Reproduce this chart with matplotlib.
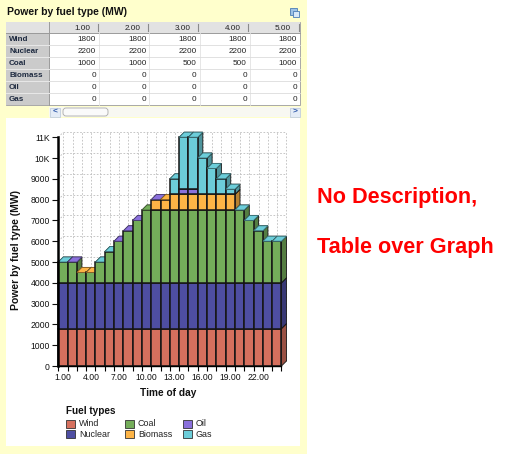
import matplotlib
matplotlib.use('Agg')
import matplotlib.pyplot as plt
from matplotlib.patches import Rectangle, Polygon, FancyBboxPatch
from matplotlib.colors import to_rgb

plt.rcParams['font.family'] = ['Liberation Sans', 'DejaVu Sans']

# data (MW per hour of day)
hours = list(range(1, 25))
fuels = ['Wind', 'Nuclear', 'Coal', 'Biomass', 'Oil', 'Gas']
wind = [1800, 1800, 1800, 1800, 1800, 1800, 1800, 1800, 1800, 1800, 1800, 1800,
        1800, 1800, 1800, 1800, 1800, 1800, 1800, 1800, 1800, 1800, 1800, 1800]
nuclear = [2200, 2200, 2200, 2200, 2200, 2200, 2200, 2200, 2200, 2200, 2200, 2200,
           2200, 2200, 2200, 2200, 2200, 2200, 2200, 2200, 2200, 2200, 2200, 2200]
coal = [1000, 1000, 500, 500, 1000, 1500, 2000, 2500, 3000, 3500, 3500, 3500,
        3500, 3500, 3500, 3500, 3500, 3500, 3500, 3500, 3000, 2500, 2000, 2000]
biomass = [0, 0, 0, 0, 0, 0, 0, 0, 0, 0, 500, 500,
           750, 750, 750, 750, 750, 750, 750, 0, 0, 0, 0, 0]
oil = [0, 0, 0, 0, 0, 0, 0, 0, 0, 0, 0, 0,
       0, 250, 250, 0, 0, 0, 0, 0, 0, 0, 0, 0]
gas = [0, 0, 0, 0, 0, 0, 0, 0, 0, 0, 0, 0,
       750, 2500, 2500, 1750, 1250, 750, 250, 0, 0, 0, 0, 0]
# colour of the visible top face of each column in the original rendering
top_face = ['Gas', 'Oil', 'Biomass', 'Biomass', 'Gas', 'Gas', 'Oil', 'Oil', 'Oil', 'Coal',
            'Oil', 'Biomass', 'Gas', 'Gas', 'Gas', 'Gas', 'Gas', 'Gas', 'Gas', 'Gas',
            'Gas', 'Gas', 'Gas', 'Gas']
series = [wind, nuclear, coal, biomass, oil, gas]
colors = {'Wind': '#D6705E', 'Nuclear': '#4E4EA2', 'Coal': '#74AD5A',
          'Biomass': '#FDB446', 'Oil': '#8A70DC', 'Gas': '#6CCDD9'}

W, H = 508, 454
fig = plt.figure(figsize=(W / 100, H / 100), dpi=100)
fig.patch.set_facecolor('white')

# background / panel drawn in pixel coordinates
bg = fig.add_axes([0, 0, 1, 1])
bg.set_xlim(0, W)
bg.set_ylim(H, 0)
bg.axis('off')
bg.add_patch(Rectangle((0, 0), 307, H, fc='#FFFFCC', ec='none'))
bg.add_patch(Rectangle((6, 118), 294, 328, fc='white', ec='none'))
bg.text(7, 12, 'Power by fuel type (MW)', fontsize=7.5, fontweight='bold',
        va='center', ha='left', color='#111111')
# little export icon
bg.add_patch(Rectangle((290, 8), 7, 7, fc='#9EC3E6', ec='#4A7DB5', lw=0.6))
bg.add_patch(Rectangle((293, 11), 6, 6, fc='#D6E8F7', ec='#4A7DB5', lw=0.6))

# table
tx0, lab_w, col_w, head_h, row_h, ty0 = 6, 43, 50.2, 11, 12, 22
ncols = 5
tx1 = tx0 + lab_w + ncols * col_w
bg.add_patch(Rectangle((tx0, ty0), tx1 - tx0, head_h + 6 * row_h, fc='white', ec='#A8A8A8', lw=0.7))
bg.add_patch(Rectangle((tx0, ty0), tx1 - tx0, head_h, fc='#E2E2E2', ec='none'))
bg.add_patch(Rectangle((tx0, ty0 + head_h), lab_w, 6 * row_h, fc='#CBCBCB', ec='none'))
bg.plot([tx0, tx1], [ty0 + head_h, ty0 + head_h], color='#9A9A9A', lw=0.7)
bg.plot([tx0 + lab_w, tx0 + lab_w], [ty0, ty0 + head_h + 6 * row_h], color='#9A9A9A', lw=0.7)
for c in range(ncols):
    xr = tx0 + lab_w + (c + 1) * col_w
    bg.text(xr - 9, ty0 + head_h / 2 + 0.5, '%.2f' % hours[c], fontsize=5.9,
            ha='right', va='center', color='#222222')
    bg.plot([xr - 1.5, xr - 1.5], [ty0 + 2, ty0 + head_h - 2], color='#8A8A8A', lw=0.8)
    if c < ncols - 1:
        bg.plot([xr, xr], [ty0 + head_h, ty0 + head_h + 6 * row_h], color='#E2E2E2', lw=0.6)
for r, (name, vals) in enumerate(zip(fuels, series)):
    yc = ty0 + head_h + r * row_h + row_h / 2
    bg.text(tx0 + 3, yc + 0.5, name, fontsize=5.8, fontweight='bold', ha='left',
            va='center', color='#1E2A40')
    for c in range(ncols):
        xr = tx0 + lab_w + (c + 1) * col_w
        bg.text(xr - 3, yc + 0.5, str(vals[c]), fontsize=5.9, ha='right', va='center',
                color='#222222')
    if r > 0:
        yl = ty0 + head_h + r * row_h
        bg.plot([tx0 + lab_w, tx1], [yl, yl], color='#DCDCDC', lw=0.6)
        bg.plot([tx0, tx0 + lab_w], [yl, yl], color='#EDEDED', lw=0.6)

# scrollbar
bg.add_patch(Rectangle((49, 107), 251, 10, fc='#F8F8F2', ec='none'))
bg.add_patch(Rectangle((50, 107.5), 10, 9, fc='#E4ECF7', ec='#B8C6DA', lw=0.5))
bg.add_patch(Rectangle((290, 107.5), 10, 9, fc='#E4ECF7', ec='#B8C6DA', lw=0.5))
bg.text(55, 112.3, '<', fontsize=6, ha='center', va='center', color='#2A55A8', fontweight='bold')
bg.text(295, 112.3, '>', fontsize=6, ha='center', va='center', color='#2A55A8', fontweight='bold')
bg.add_patch(FancyBboxPatch((63, 108), 45, 8, boxstyle='round,pad=0,rounding_size=3',
                            fc='#FAFAFA', ec='#A9A9A9', lw=0.6))

# red notes
bg.text(317, 203.3, 'No Description,', fontsize=15.6, fontweight='bold', color='#FF0000',
        ha='left', va='baseline')
bg.text(317, 253.3, 'Table over Graph', fontsize=15.6, fontweight='bold', color='#FF0000',
        ha='left', va='baseline')

# chart axes (front plane of the pseudo-3D bars)
px_l, px_r, px_b, px_t = 58.3, 281.5, 366, 137.2
ax = fig.add_axes([px_l / W, (H - px_b) / H, (px_r - px_l) / W, (px_b - px_t) / H])
ax.set_xlim(0.5, 24.5)
ax.set_ylim(0, 11000)
ax.patch.set_alpha(0)
ppx = (px_r - px_l) / 24.0
ppy = (px_b - px_t) / 11000.0
ddx = 5 / ppx
ddy = 5 / ppy

grid_kw = dict(color='#BDBDBD', lw=0.6, ls=(0, (2, 2)), zorder=1, clip_on=False)
for v in range(0, 12000, 1000):
    ax.plot([0.5 + ddx, 24.5 + ddx], [v + ddy, v + ddy], **grid_kw)
    ax.plot([0.5, 0.5 + ddx], [v, v + ddy], **grid_kw)
for k in range(25):
    ax.plot([k + 0.5 + ddx, k + 0.5 + ddx], [ddy, 11000 + ddy], **grid_kw)


def shade(c, f):
    r, g, b = to_rgb(c)
    return (r * f, g * f, b * f)


edge = '#151515'
for i, h in enumerate(hours):
    x0, x1 = h - 0.5, h + 0.5
    base = 0
    for name, vals in zip(fuels, series):
        v = vals[i]
        if v <= 0:
            continue
        col = colors[name]
        top = base + v
        ax.add_patch(Polygon([(x1, base), (x1 + ddx, base + ddy), (x1 + ddx, top + ddy), (x1, top)],
                             closed=True, fc=shade(col, 0.72), ec=edge, lw=0.6, zorder=3, clip_on=False))
        ax.add_patch(Polygon([(x0, top), (x0 + ddx, top + ddy), (x1 + ddx, top + ddy), (x1, top)],
                             closed=True, fc=col, ec=edge, lw=0.6, zorder=3, clip_on=False))
        ax.add_patch(Rectangle((x0, base), 1, v, fc=col, ec=edge, lw=1.1, zorder=3, clip_on=False))
        base = top
    cap = colors[top_face[i]]
    ax.add_patch(Polygon([(x0, base), (x0 + ddx, base + ddy), (x1 + ddx, base + ddy), (x1, base)],
                         closed=True, fc=cap, ec=shade(cap, 0.55), lw=0.6, zorder=3, clip_on=False))

for s in ['top', 'right']:
    ax.spines[s].set_visible(False)
ax.spines['left'].set_linewidth(1.8)
ax.spines['bottom'].set_linewidth(1.0)
ax.spines['left'].set_zorder(5)
ax.spines['bottom'].set_zorder(5)
yt = list(range(0, 12000, 1000))
ax.set_yticks(yt)
ax.set_yticklabels([('%dK' % (v // 1000)) if v >= 10000 else str(v) for v in yt])
ax.set_xticks(hours[::3])
ax.set_xticklabels(['%.2f' % h for h in hours[::3]])
ax.set_xticks([k + 0.5 for k in range(25)], minor=True)
ax.tick_params(axis='y', length=4.5, width=0.8, pad=1.5, labelsize=6.2, colors='#111111')
ax.tick_params(axis='x', which='major', length=0, pad=5, labelsize=6.2, colors='#111111')
ax.tick_params(axis='x', which='minor', length=3.5, width=0.8)

bg.text(16, 250, 'Power by fuel type (MW)', rotation=90, fontsize=7.5, fontweight='bold',
        ha='center', va='center', color='#111111')
bg.text(168, 393, 'Time of day', fontsize=7.3, fontweight='bold', ha='center', va='center',
        color='#111111')

# legend
bg.text(66, 411, 'Fuel types', fontsize=7.2, fontweight='bold', ha='left', va='center',
        color='#111111')
leg_pos = [(66, 423.5), (66, 434), (125, 423.5), (125, 434), (183, 423.5), (183, 434)]
for name, (lx, ly) in zip(fuels, leg_pos):
    bg.add_patch(Rectangle((lx, ly - 4), 8.5, 8, fc=colors[name], ec='#333333', lw=0.6))
    bg.text(lx + 13, ly + 0.3, name, fontsize=6.4, ha='left', va='center', color='#222222')

fig.savefig('out.png', dpi=100)
